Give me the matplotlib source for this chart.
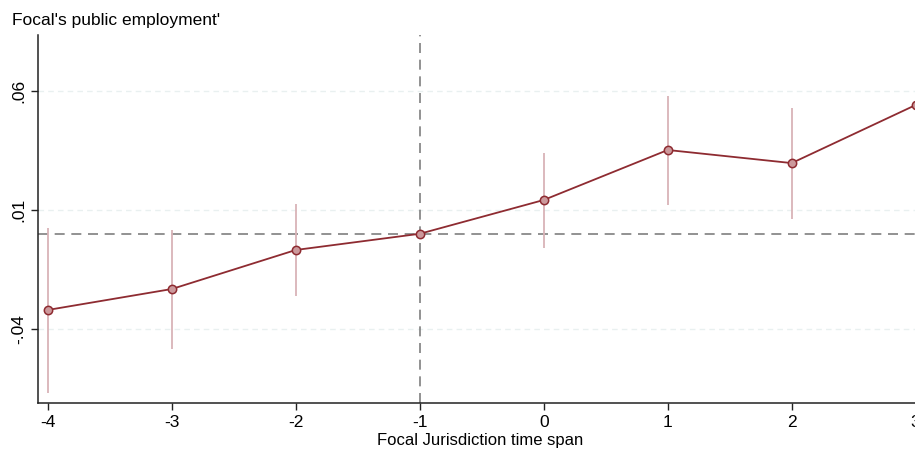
import matplotlib.pyplot as plt

# event-study estimates and 95% CI
periods = [-4, -3, -2, -1, 0, 1, 2, 3]
coef = [-0.0320, -0.0232, -0.0068, 0.0, 0.0142, 0.0352, 0.0297, 0.0541]
ci_low = [-0.0669, -0.0484, -0.0261, 0.0, -0.0059, 0.0121, 0.0062, 0.0281]
ci_high = [0.0024, 0.0016, 0.0125, 0.0, 0.0340, 0.0579, 0.0530, 0.0800]
yticks = [-0.04, 0.01, 0.06]
ytick_labels = ['-.04', '.01', '.06']

plt.rcParams['font.family'] = ['Liberation Sans', 'DejaVu Sans']

fig = plt.figure(figsize=(9.15, 4.49), dpi=100)
ax = fig.add_axes([0.0415, 0.1024, 0.966, 0.8196])

# CI spikes
ax.vlines(periods, ci_low, ci_high, color='#d9b3b7', linewidth=1.3, zorder=2)

# reference lines
ax.axhline(0, color='#7f7f7f', linestyle=(0, (6, 4)), linewidth=1.2, zorder=1)
ax.axvline(-1, color='#7f7f7f', linestyle=(0, (6, 4)), linewidth=1.2, zorder=1)

ax.plot(periods, coef, color='#8e2b31', linewidth=1.3, marker='o',
        markersize=6, markerfacecolor='#cc999c', markeredgecolor='#8e2b31',
        markeredgewidth=1.1, zorder=3)

ax.set_xlim(-4.08, 3.05)
ax.set_ylim(-0.0711, 0.0835)
ax.set_xticks(periods)
ax.set_xticklabels([str(p) for p in periods])
ax.set_yticks(yticks)
ax.set_yticklabels(ytick_labels, rotation=90, va='center')
ax.tick_params(labelsize=12.5, length=5, width=1, color='#222222')

ax.grid(axis='y', color='#e9f0f0', linestyle=(0, (4, 3)), linewidth=1)
ax.set_axisbelow(True)

for s in ['top', 'right']:
    ax.spines[s].set_visible(False)
for s in ['left', 'bottom']:
    ax.spines[s].set_color('#222222')
    ax.spines[s].set_linewidth(1.1)

ax.set_xlabel('Focal Jurisdiction time span', fontsize=12, labelpad=2)
fig.text(0.013, 0.955, "Focal's public employment'", fontsize=12.5, va='center')

plt.savefig('out.png', dpi=100)
